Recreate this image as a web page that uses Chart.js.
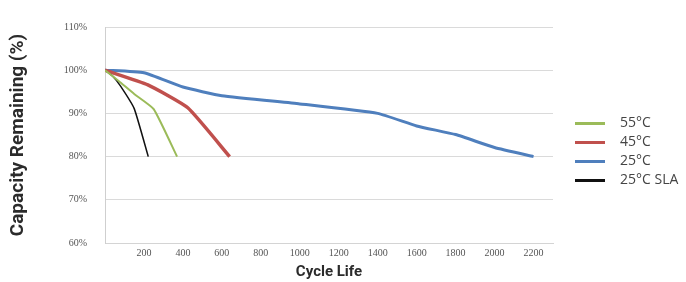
<!DOCTYPE html>
<html>
<head>
<meta charset="utf-8">
<script src="https://cdn.jsdelivr.net/npm/chart.js@4.4.1/dist/chart.umd.min.js"></script>
<style>
  html, body { margin: 0; padding: 0; background: #fff; }
  #wrap { position: relative; width: 686px; height: 282px; }
  #legend { position: absolute; left: 575px; top: 112px; font-family: "Open Sans", sans-serif; font-size: 14px; color: #444; }
  #legend div { height: 19px; line-height: 19px; white-space: nowrap; }
  #legend span { display: inline-block; width: 30px; height: 3px; vertical-align: middle; margin-right: 15px; }
</style>
</head>
<body>
<div id="wrap">
  <canvas id="mychart" width="686" height="282"></canvas>
  <div id="legend"></div>
</div>
<script>
// cycle counts and remaining capacity (%)
const seriesNames = ["55°C", "45°C", "25°C", "25°C SLA"];

const cycles55 = [0, 70, 150, 250, 370];
const cap55 = [100, 97.5, 94.5, 91, 80];

const cycles45 = [0, 220, 425, 640];
const cap45 = [100, 96.6, 91.3, 80];

const cycles25 = [0, 200, 400, 600, 1000, 1400, 1600, 1800, 2000, 2200];
const cap25 = [100, 99.4, 96.1, 94.1, 92.2, 90, 87.1, 85.1, 82.1, 80];

const cyclesSLA = [0, 40, 80, 150, 222];
const capSLA = [100, 98.6, 96.3, 91.1, 80];

const xTicks = [200, 400, 600, 800, 1000, 1200, 1400, 1600, 1800, 2000, 2200];
const yTicks = [60, 70, 80, 90, 100, 110];

const colors = ["#9bbb59", "#c0504d", "#4f7fbd", "#111111"];
const widths = [2, 3.5, 3, 1.5];

function pts(xs, ys) {
  return xs.map((x, i) => ({ x: x, y: ys[i] }));
}

const allData = [pts(cycles55, cap55), pts(cycles45, cap45), pts(cycles25, cap25), pts(cyclesSLA, capSLA)];

const tickFont = { family: "'Liberation Serif', serif", size: 10 };

const chart = document.getElementById('mychart').getContext('2d');
const myChart = new Chart(chart, {
  type: 'line',
  data: {
    datasets: seriesNames.map((name, i) => ({
      label: name,
      data: allData[i],
      borderColor: colors[i],
      backgroundColor: colors[i],
      borderWidth: widths[i],
      pointRadius: 0,
      tension: 0.15,
      fill: false
    }))
  },
  options: {
    responsive: false,
    animation: false,
    layout: { padding: { left: 7, right: 133, top: 27, bottom: 0 } },
    plugins: {
      legend: { display: false },
      tooltip: { enabled: false }
    },
    scales: {
      x: {
        type: 'linear',
        min: 0,
        max: 2300,
        afterBuildTicks: function(scale) {
          scale.ticks = xTicks.map(v => ({ value: v }));
        },
        afterFit: function(scale) { scale.height = 39; },
        grid: { display: false, drawTicks: false },
        border: { display: true, color: '#d4d4d4' },
        ticks: {
          font: tickFont,
          color: '#555',
          padding: 4,
          maxRotation: 0,
          autoSkip: false,
          callback: v => String(v)
        },
        title: {
          display: true,
          text: 'Cycle Life',
          font: { family: 'Roboto', weight: 'bold', size: 15 },
          color: '#2b2b2b',
          padding: { top: 0, bottom: 1 }
        }
      },
      y: {
        min: 60,
        max: 110,
        afterBuildTicks: function(scale) {
          scale.ticks = yTicks.map(v => ({ value: v }));
        },
        afterFit: function(scale) { scale.width = 98; },
        grid: { color: '#dadada', drawTicks: false },
        border: { display: true, color: '#cfcfcf' },
        ticks: {
          font: tickFont,
          color: '#555',
          padding: 18,
          callback: v => v + '%'
        },
        title: {
          display: true,
          text: 'Capacity Remaining (%)',
          font: { family: 'Roboto', weight: 'bold', size: 19 },
          color: '#2b2b2b',
          padding: { top: 0, bottom: 0 }
        }
      }
    }
  }
});

// legend beside the plot
const legendDiv = document.getElementById('legend');
myChart.data.datasets.forEach(ds => {
  const row = document.createElement('div');
  const sw = document.createElement('span');
  sw.style.background = ds.borderColor;
  row.appendChild(sw);
  row.appendChild(document.createTextNode(ds.label));
  legendDiv.appendChild(row);
});
</script>
</body>
</html>
